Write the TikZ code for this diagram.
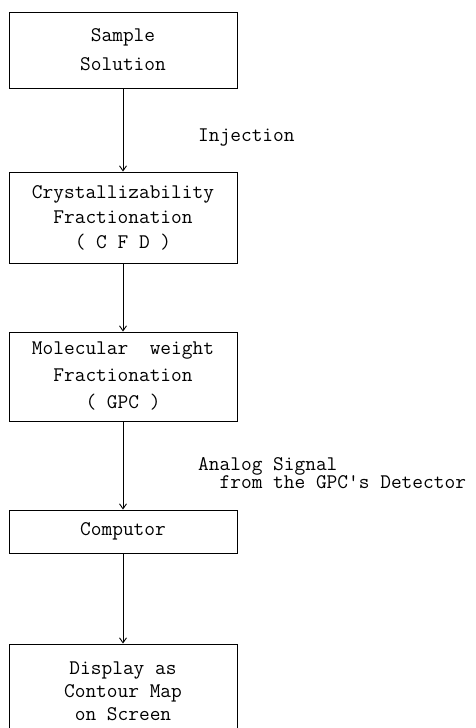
\documentclass[tikz,border=0pt]{standalone}
\usepackage{fontspec}
\usetikzlibrary{arrows.meta}
\tikzset{
  box/.style={draw, line width=0.9pt, minimum width=228pt, inner sep=0pt, align=center,
    font=\ttfamily\fontsize{20.8}{26}\selectfont},
  lbl/.style={inner sep=0pt, align=left, font=\ttfamily\fontsize{20.8}{15}\selectfont},
  arr/.style={line width=0.9pt, -{Straight Barb[length=5pt,width=7pt]}}
}
\begin{document}
\begin{tikzpicture}[x=1pt,y=-1pt]
\useasboundingbox (0,0) rectangle (476,728);
\clip (0,0) rectangle (476,728);
\node[box, minimum height=76pt, font=\ttfamily\fontsize{20.8}{29}\selectfont] (b1) at (123,50) {Sample\\Solution};
\node[box, minimum height=91pt, font=\ttfamily\fontsize{20.8}{25}\selectfont] (b2) at (123,217.5) {Crystallizability\\Fractionation\\( C F D )};
\node[box, minimum height=89pt, font=\ttfamily\fontsize{20.8}{27}\selectfont] (b3) at (123,376.5) {Molecular\ \ weight\\Fractionation\\( GPC )};
\node[box, minimum height=43pt] (b4) at (123,531.5) {Computor};
\node[box, minimum height=94pt, font=\ttfamily\fontsize{20.8}{23}\selectfont] (b5) at (123,691) {Display as\\Contour Map\\on Screen};
\draw[arr] (b1) -- (b2);
\draw[arr] (b2) -- (b3);
\draw[arr] (b3) -- (b4);
\draw[arr] (b4) -- (b5);
\node[lbl, anchor=west] (l1) at (198,138) {Injection};
\node[lbl, anchor=north west] (l2) at (198,457) {Analog Signal\\\ \ from the GPC's Detector};
\end{tikzpicture}
\end{document}
